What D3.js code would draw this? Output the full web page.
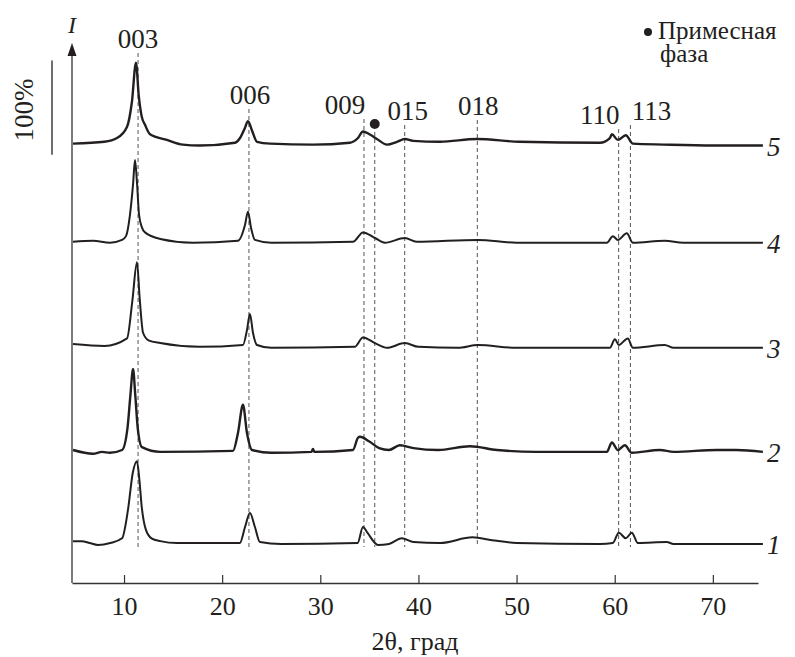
<!DOCTYPE html>
<html>
<head>
<meta charset="utf-8">
<script src="https://cdn.jsdelivr.net/npm/d3@7/dist/d3.min.js"></script>
<style>
  body { margin: 0; background: #fff; }
</style>
</head>
<body>
<svg id="chart" width="795" height="657"></svg>
<script>
"use strict";

// 2θ (deg) vs relative intensity (%)
const curve1 = [[4.8,3],[5.7,3],[6.5,1],[7.35,-1],[8.6,1],[9.8,6],[10.4,36],[10.9,76],[11.32,88],[11.55,70],[11.8,40],[12.2,16],[12.8,6],[13.7,3],[15.4,1],
  [21.8,1],[22.33,18],[22.83,33],[23.34,18],[23.85,2],[26,0],[33.8,1],[34.35,18],[34.8,12],[35.87,-1],[37,0],[38.3,6],[39.5,2],[42.2,1],
  [45.5,7],[47.5,4],[50,1],[58.5,0],[59.8,1],[60.42,12],[61.13,6],[61.74,12],[62.36,1],[65.3,2],[66,0],[75.1,0]];
const curve2 = [[4.8,2],[6.84,-2],[7.76,0],[8.57,-1],[9.8,2],[10.35,25],[10.65,60],[10.92,88],[11.15,60],[11.4,25],[11.83,5],[13.7,0],[21.1,1],[21.61,20],
  [22.12,50],[22.53,20],[23.04,2],[25,-1],[29.1,0],[29.25,3],[29.4,0],[33.33,2],[33.84,15],[34.04,16],[35,11],[36,4],[37,2],[38.1,7],
  [39.5,4],[42,2],[45.25,6],[48,2],[52,0],[59.2,0],[59.71,10],[60.32,2],[61.03,7],[61.74,-1],[64.6,2],[66,0],[70.4,2],[72.4,2],[75.1,0]];
const curve3 = [[4.8,4],[8,2],[10.31,10],[10.85,50],[11.32,91],[11.6,52],[11.94,16],[12.5,8],[13.7,5],[17.7,1],[22.12,3],[22.53,19],[22.83,36],
  [23.14,16],[23.55,3],[25,0],[33.5,1],[34.35,11],[35.57,5],[36.79,0],[38.62,5],[40,1],[44,0],[46.06,3],[50,0],[59.5,0],[60.02,9],
  [60.42,3],[61.33,10],[61.85,0],[65.1,3],[66,0],[75.1,0]];
const curve4 = [[4.8,1],[6.84,2],[8.57,0],[9.8,3],[10.2,7],[10.61,30],[10.92,62],[11.12,88],[11.32,64],[11.53,30],[11.83,16],[12.14,11],
  [13.7,4],[17,0],[21.61,2],[22.33,19],[22.63,33],[22.94,16],[23.34,3],[25,0],[33.33,1],[34.35,11],[35.57,5],[36.59,0],[38.62,5],
  [39.8,1],[46.06,3],[50,0],[59.2,0],[59.81,7],[60.32,3],[61.23,10],[61.85,0],[65.1,2],[67,0],[75.1,0]];
const curve5 = [[4.8,1],[8,3],[9.29,7],[10.31,19],[10.8,45],[11.22,87],[11.5,52],[11.8,30],[12.14,21],[12.65,11],[14.38,5],[16,0],[17.7,-1],
  [21.31,2],[21.82,7],[22.33,18],[22.63,25],[23.04,15],[23.55,3],[24.9,1],[29.25,0],[33.02,2],[33.84,7],[34.35,14],[35,11],[35.77,6],
  [36.79,0],[37.81,3],[38.62,6],[39.44,4],[42.2,3],[45.96,6],[50.3,3],[58.5,2],[59.5,7],[59.71,11],[60.32,5],[61.13,10],[61.85,1],
  [65,0],[70,-1],[75.1,-1]];

const series = [curve1, curve2, curve3, curve4, curve5];
const seriesNames = ['1', '2', '3', '4', '5'];
const seriesOffsets = [41.5, 139.4, 250, 361.7, 466];

const reflections = ['003', '006', '009', '015', '018', '110', '113'];
const reflectionPos = [11.43, 22.73, 34.45, 38.6, 46.0, 60.4, 61.6];
const impurityPos = 35.55;
const xTicks = [10, 20, 30, 40, 50, 60, 70];

// layout
const SERIF = '"Liberation Serif", "Times New Roman", Times, "DejaVu Serif", "Noto Serif", serif';
const labelDx = [0, 1, -19, 3, 1, -19, 21];
const labelBase = [48, 104, 114, 120, 115, 124, 120];
const dashBottom = 547;

const svg = d3.select('#chart');
const x = d3.scaleLinear().domain([4.7, 74.6]).range([72, 758]);
const y = d3.scaleLinear().domain([0, 574]).range([583, 43]);

function addText(x0, y0, str, size, opts) {
  opts = opts || {};
  let t = svg.append('text')
    .attr('x', x0).attr('y', y0)
    .attr('fill', '#231f20')
    .attr('text-anchor', opts.anchor || 'start')
    .style('font-family', SERIF)
    .style('font-size', size + 'px')
    .text(str);
  if (opts.italic) t.style('font-style', 'italic');
  if (opts.transform) t.attr('transform', opts.transform);
  return t;
}

// dashed reflection lines
reflections.forEach((name, i) => {
  let xp = x(reflectionPos[i]);
  svg.append('line')
    .attr('x1', xp).attr('x2', xp)
    .attr('y1', labelBase[i] + 5).attr('y2', dashBottom)
    .attr('stroke', '#555').attr('stroke-width', 1)
    .attr('stroke-dasharray', '4,3');
  addText(xp + labelDx[i], labelBase[i], name, 27, { anchor: 'middle' });
});

svg.append('line')
  .attr('x1', x(impurityPos)).attr('x2', x(impurityPos))
  .attr('y1', 132).attr('y2', dashBottom)
  .attr('stroke', '#555').attr('stroke-width', 1)
  .attr('stroke-dasharray', '4,3');
svg.append('circle').attr('cx', x(impurityPos)).attr('cy', 124).attr('r', 5).attr('fill', '#231f20');

// patterns
series.forEach((data, i) => {
  let line = d3.line()
    .x((d) => x(d[0]))
    .y((d) => y(seriesOffsets[i] + d[1]))
    .curve(d3.curveMonotoneX);
  svg.append('path')
    .attr('d', line(data))
    .attr('fill', 'none')
    .attr('stroke', '#231f20')
    .attr('stroke-width', i === 4 || i === 1 ? 2.4 : 2)
    .attr('stroke-linejoin', 'round');
  let last = data[data.length - 1];
  addText(767, y(seriesOffsets[i] + last[1]) + 10, seriesNames[i], 27, { italic: true });
});

// x axis
let xAxis = d3.axisBottom(x).tickValues(xTicks).tickSizeInner(-8).tickSizeOuter(0).tickPadding(14);
let gx = svg.append('g').attr('transform', 'translate(0,583)').call(xAxis);
gx.select('.domain').attr('stroke', '#333').attr('stroke-width', 1.3);
gx.selectAll('.tick line').attr('stroke', '#333').attr('stroke-width', 1.2);
gx.selectAll('.tick text')
  .attr('fill', '#231f20')
  .style('font-family', SERIF)
  .style('font-size', '26px');

addText(415, 650, '2θ, град', 26, { anchor: 'middle' });

// y axis with arrow
svg.append('line')
  .attr('x1', 72).attr('x2', 72).attr('y1', 583).attr('y2', 50)
  .attr('stroke', '#333').attr('stroke-width', 1.3);
svg.append('path')
  .attr('d', 'M72,43 L67.5,56 L76.5,56 Z')
  .attr('fill', '#231f20');
addText(72, 33, 'I', 24, { anchor: 'middle', italic: true });

// 100 % scale bar
svg.append('line')
  .attr('x1', 52).attr('x2', 52)
  .attr('y1', y(455.3)).attr('y2', y(555.3))
  .attr('stroke', '#231f20').attr('stroke-width', 1.3);
addText(0, 0, '100%', 27, { anchor: 'middle', transform: 'translate(33,110) rotate(-90)' });

// legend
svg.append('circle').attr('cx', 648).attr('cy', 32).attr('r', 4).attr('fill', '#231f20');
addText(658, 39, 'Примесная', 25);
addText(660, 62, 'фаза', 25);
</script>
</body>
</html>
